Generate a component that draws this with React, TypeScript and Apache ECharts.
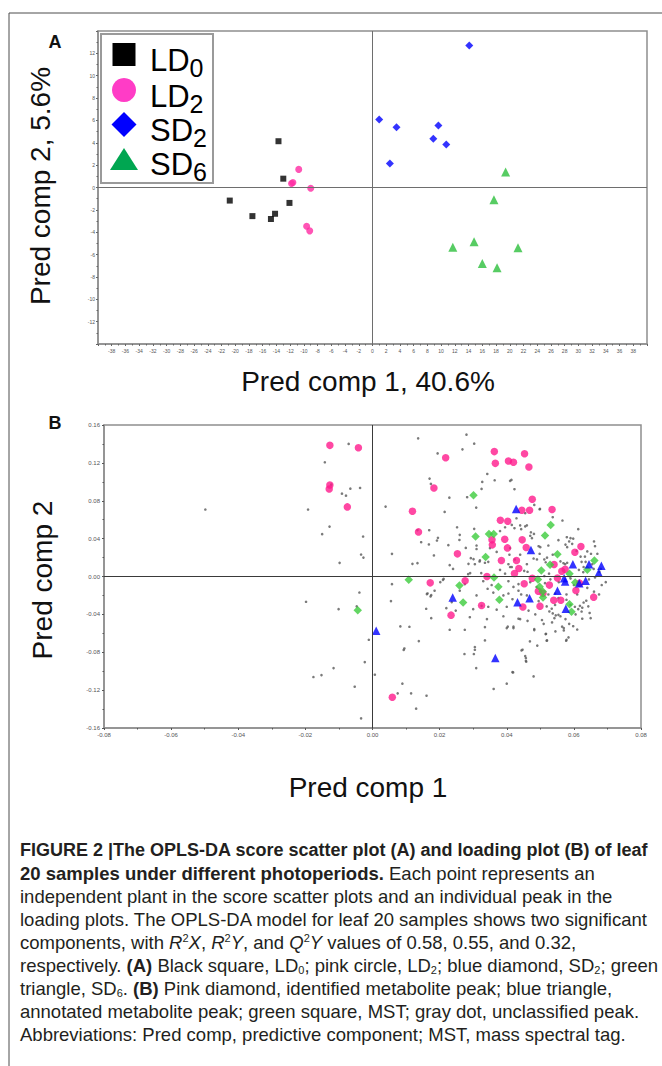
import React, { useEffect, useRef } from 'react';
import * as echarts from 'echarts';

const FONT = "'Liberation Sans', Arial, sans-serif";

// ---------- Panel A: OPLS-DA score scatter ----------
const groupNames = ['LD0', 'LD2', 'SD2', 'SD6'];
const scoreLD0 = [[-13.7, 4.14], [-13.0, 0.79], [-20.8, -1.17], [-12.1, -1.38], [-17.5, -2.56], [-14.2, -2.35], [-14.8, -2.82]];
const scoreLD2 = [[-10.75, 1.62], [-11.8, 0.35], [-11.6, 0.45], [-9.0, -0.06], [-9.6, -3.47], [-9.15, -3.88]];
const scoreSD2 = [[14.1, 12.7], [0.97, 6.08], [3.5, 5.4], [9.6, 5.55], [8.86, 4.35], [10.75, 3.85], [2.53, 2.14]];
const scoreSD6 = [[19.4, 1.38], [17.7, -1.09], [11.7, -5.35], [14.8, -4.85], [21.2, -5.4], [16.0, -6.8], [18.15, -7.17]];
const axisA = { xMin: -40, xMax: 40, xStep: 2, yMin: -14, yMax: 14, yStep: 2 };

// ---------- Panel B: loading plot ----------
const peakNames = ['unclassified peak', 'identified metabolite peak', 'MST', 'annotated metabolite peak'];
const identified = [
  [-0.0127, 0.1385], [-0.0042, 0.136], [-0.0127, 0.0967], [-0.0129, 0.0925], [-0.0075, 0.0735],
  [0.0218, 0.1255], [0.0363, 0.1319], [0.0453, 0.1297], [0.0366, 0.1195], [0.0405, 0.122], [0.042, 0.1206], [0.0466, 0.1157],
  [0.0183, 0.0935], [0.0476, 0.0816], [0.0119, 0.0689], [0.0445, 0.07], [0.0468, 0.07], [0.0535, 0.0707], [0.0381, 0.0594], [0.0403, 0.0584],
  [0.0137, 0.0471], [0.0394, 0.0394], [0.0446, 0.0387], [0.0356, 0.0387], [0.0357, 0.0334], [0.0402, 0.0302], [0.0458, 0.0306], [0.0621, 0.0316], [0.0603, 0.0257],
  [0.0253, 0.0239], [0.0384, 0.0169], [0.0429, 0.0169], [0.0436, 0.0084], [0.0423, 0.0032], [0.0341, 0.0], [0.0541, 0.0127], [0.0564, 0.0056], [0.0574, 0.0077],
  [0.0476, -0.0018], [0.0551, -0.0017], [0.0172, -0.0067], [0.0276, -0.0046], [0.0452, -0.0077], [0.0527, -0.0091], [0.0494, -0.0155], [0.0508, -0.0176], [0.0606, -0.0148], [0.0617, -0.007],
  [0.054, -0.025], [0.0561, -0.025], [0.0659, -0.0218], [0.0325, -0.0306], [0.0448, -0.0323], [0.0499, -0.0313], [0.0234, -0.0408], [0.0059, -0.1276],
];
const mst = [
  [0.0301, 0.0858], [0.0531, 0.0545], [0.0514, 0.0432], [0.0307, 0.0422], [0.0347, 0.045], [0.0361, 0.045], [0.0551, 0.0236], [0.0337, 0.0207],
  [0.0529, 0.0123], [0.0503, 0.0063], [0.0661, 0.0169], [0.064, 0.007], [0.0587, 0.0028], [0.0108, -0.0035], [0.0362, -0.001], [0.0493, -0.0032],
  [0.0259, -0.0095], [0.0375, -0.0109], [0.0498, -0.0109], [0.0507, -0.0158], [0.0508, -0.0222], [0.0604, -0.0063], [0.027, -0.0274], [0.0378, -0.0246],
  [0.0587, -0.0292], [0.0593, -0.0373], [-0.0044, -0.0357],
];
const annotated = [
  [0.0428, 0.0714], [0.0472, 0.0281], [0.0597, 0.013], [0.0645, 0.013], [0.0682, 0.0113], [0.0674, 0.0039], [0.0571, -0.0018], [0.0574, -0.0053],
  [0.0616, -0.007], [0.0635, -0.0046], [0.0551, -0.0151], [0.0468, -0.0229], [0.0432, -0.0271], [0.0239, -0.0222], [0.0366, -0.0861], [0.0011, -0.0573], [0.0576, -0.0341],
];
const unclassified = [
  [-0.0071, 0.14], [-0.0142, 0.1206], [-0.0091, 0.0875], [-0.0079, 0.0854], [-0.0066, 0.0928], [-0.0037, 0.0935], [-0.0123, 0.097], [-0.0498, 0.0707], [-0.0192, 0.0707],
  [-0.0128, 0.0527], [-0.015, 0.0447], [-0.0028, 0.0422], [-0.0034, 0.0232], [-0.0027, 0.02], [-0.0098, 0.0144], [-0.0039, -0.0169], [-0.0198, -0.0267], [-0.0101, -0.0345],
  [-0.0047, -0.0316], [-0.0011, -0.0668], [-0.0023, -0.0904], [-0.0116, -0.0967], [-0.0152, -0.1041], [-0.0176, -0.1062], [-0.0053, -0.1164], [-0.0034, -0.1498], [0.0007, -0.1037],
  [0.0136, 0.1459], [0.028, 0.1498], [0.0303, 0.1403], [0.0268, 0.1343], [0.0194, 0.13], [0.0342, 0.1083], [0.0327, 0.0999], [0.0364, 0.1016], [0.0414, 0.102], [0.017, 0.1034],
  [0.0174, 0.0978], [0.0325, 0.0925], [0.0229, 0.0833], [0.0282, 0.0837], [0.0039, 0.0738], [0.0215, 0.0682], [0.0309, 0.0728], [0.0499, 0.0714], [0.0429, 0.0615], [0.0455, 0.0668],
  [0.0252, 0.052], [0.0134, 0.0489], [0.0169, 0.0489], [0.0195, 0.0408], [0.0145, 0.0362], [0.0168, 0.0338], [0.0192, 0.038], [0.0226, 0.0331], [0.0278, 0.0302], [0.031, 0.0327],
  [0.0058, 0.0239], [0.0183, 0.0222], [0.0119, 0.0134], [0.0134, 0.0141], [0.0286, 0.0134], [0.0301, 0.0183], [0.0319, 0.0158], [0.0058, -0.0081], [0.0164, -0.0179], [0.0175, -0.0197],
  [0.0212, -0.0025], [0.0285, 0.0025], [0.0055, -0.026], [0.016, -0.0341], [0.022, -0.0334], [0.0083, -0.0527], [0.011, -0.0531], [0.0138, -0.0682], [0.0095, -0.076], [0.0093, -0.0775],
  [0.023, -0.0563], [0.0275, -0.0563], [0.0335, -0.0534], [0.0274, -0.0819], [0.0302, -0.0819], [0.0305, -0.0774], [0.0305, -0.0745], [0.0335, -0.0675], [0.0309, -0.0967], [0.0089, -0.1132],
  [0.0115, -0.1234], [0.0161, -0.1259], [0.0075, -0.1234], [0.013, -0.1396], [0.0361, -0.1188], [0.04, -0.1132], [0.0419, -0.1013], [0.0457, -0.089], [0.0457, -0.0861], [0.0444, -0.0781],
  [0.048, -0.1055], [0.04, -0.0545], [0.042, -0.0545], [0.0482, -0.0566], [0.0517, -0.0605], [0.052, -0.0675], [0.057, -0.0545], [0.0584, -0.0643], [0.0577, -0.0679], [0.0527, -0.0369],
  [0.044, -0.045], [0.0462, -0.0468],
  [0.0303, 0.0503], [0.031, 0.029], [0.0293, 0.0194], [0.0305, 0.013], [0.032, 0.017], [0.0335, 0.0145], [0.0345, 0.0155], [0.0291, 0.0036], [0.0324, 0.0036], [0.041, 0.03],
  [0.0408, 0.023], [0.041, 0.01], [0.0395, 0.003], [0.0259, 0.0386],
  [0.0423, 0.0922], [0.041, 0.101], [0.0482, 0.0756], [0.0498, 0.071], [0.0537, 0.0626], [0.0566, 0.0591], [0.044, 0.054], [0.0443, 0.05], [0.0455, 0.053], [0.046, 0.054],
  [0.0415, 0.0545], [0.0423, 0.051], [0.047, 0.043], [0.0475, 0.0405], [0.0481, 0.045], [0.0472, 0.0467], [0.05, 0.031], [0.0495, 0.032], [0.0524, 0.0327], [0.0537, 0.023],
  [0.0554, 0.0384], [0.0579, 0.0415], [0.059, 0.0405], [0.0586, 0.037], [0.0575, 0.0337], [0.0598, 0.04], [0.0595, 0.0345], [0.058, 0.031], [0.0608, 0.027], [0.062, 0.021],
  [0.0633, 0.021], [0.0613, 0.05], [0.066, 0.037], [0.0663, 0.032], [0.064, 0.0265], [0.0651, 0.024], [0.067, 0.024], [0.0498, 0.024], [0.049, 0.018], [0.046, 0.013],
  [0.048, 0.019], [0.044, 0.023], [0.0424, 0.018], [0.0452, 0.006], [0.0462, 0.005], [0.0415, 0.01], [0.0405, 0.013], [0.0512, 0.018], [0.0516, 0.015], [0.052, 0.02],
  [0.056, 0.016], [0.0569, 0.014], [0.0574, 0.013], [0.058, 0.0145], [0.0635, 0.0155], [0.0629, 0.01], [0.0659, 0.008], [0.0655, 0.013], [0.0623, 0.0155], [0.0615, 0.007],
  [0.0628, 0.0045], [0.068, 0.008], [0.0676, 0.005], [0.0526, 0.003], [0.0512, 0.0005],
  [0.0405, -0.005], [0.042, -0.011], [0.0435, -0.008], [0.0405, -0.018], [0.0435, -0.015], [0.0443, -0.019], [0.0417, -0.024], [0.04, -0.032], [0.0435, -0.0446], [0.042, -0.053],
  [0.0403, -0.053], [0.0482, -0.0555], [0.0516, -0.0608], [0.0469, -0.0685], [0.0491, -0.073], [0.0519, -0.0678], [0.0447, -0.0773], [0.0455, -0.084], [0.0458, -0.09], [0.0417, -0.101],
  [0.0578, -0.0668], [0.057, -0.057], [0.0565, -0.053], [0.0598, -0.0525], [0.0586, -0.05], [0.0535, -0.0485], [0.0542, -0.044], [0.0546, -0.041], [0.0554, -0.0405], [0.0537, -0.039],
  [0.056, -0.042], [0.0623, -0.037], [0.0613, -0.0345], [0.0625, -0.033], [0.0618, -0.031], [0.0603, -0.032], [0.0629, -0.0275], [0.0637, -0.0256], [0.0643, -0.0315], [0.0647, -0.0385],
  [0.0625, -0.0446], [0.065, -0.044], [0.0675, -0.019], [0.0683, -0.009], [0.0695, -0.006], [0.0663, -0.001], [0.0489, -0.0112], [0.0514, -0.007], [0.0524, -0.019], [0.0544, -0.018],
  [0.0554, -0.0228], [0.0519, -0.0316], [0.0534, -0.034], [0.0544, -0.03], [0.0578, -0.019], [0.0578, -0.0246], [0.06, -0.009], [0.061, -0.019], [0.064, -0.012], [0.066, -0.016],
  [0.0645, -0.003], [0.059, -0.002], [0.0555, -0.006], [0.053, -0.003], [0.047, -0.006], [0.046, -0.02], [0.0495, -0.026], [0.0465, -0.036], [0.0485, -0.04], [0.0505, -0.046],
  [0.059, -0.03], [0.0605, -0.04], [0.0575, -0.045], [0.051, -0.05], [0.0545, -0.058], [0.061, -0.056],
  [0.0162, -0.0186], [0.0173, -0.021], [0.0185, -0.015], [0.0202, -0.006], [0.021, -0.0035], [0.0175, -0.044], [0.0236, -0.027], [0.0248, -0.036], [0.029, -0.043], [0.03, -0.0345],
  [0.0325, -0.031], [0.0345, -0.032], [0.0341, -0.045], [0.0343, -0.013], [0.024, 0.008], [0.026, -0.015], [0.031, -0.02], [0.033, -0.005], [0.036, -0.017], [0.039, -0.02],
  [0.037, -0.035], [0.039, -0.042], [0.0355, -0.009], [0.038, 0.007], [0.037, 0.026], [0.035, 0.03], [0.038, 0.048], [0.0395, 0.052], [0.026, 0.044], [0.023, 0.012], [0.0275, -0.008],
];
const axisB = { xMin: -0.08, xMax: 0.08, xStep: 0.02, yMin: -0.16, yMax: 0.16, yStep: 0.04 };

// ---------- Texts ----------
const titleA = { y: 'Pred comp 2, 5.6%', x: 'Pred comp 1, 40.6%' };
const titleB = { y: 'Pred comp 2', x: 'Pred comp 1' };
const legendLabels = [['LD', '0'], ['LD', '2'], ['SD', '2'], ['SD', '6']];
const captionLines = [
  '{h|FIGURE 2 |The OPLS-DA score scatter plot (A) and loading plot (B) of leaf}',
  '{b|20 samples under different photoperiods.} Each point represents an',
  'independent plant in the score scatter plots and an individual peak in the',
  'loading plots. The OPLS-DA model for leaf 20 samples shows two significant',
  'components, with {i|R}{sup|2}{i|X}, {i|R}{sup|2}{i|Y}, and {i|Q}{sup|2}{i|Y} values of 0.58, 0.55, and 0.32,',
  'respectively. {b|(A)} Black square, LD{sub|0}; pink circle, LD{sub|2}; blue diamond, SD{sub|2}; green',
  'triangle, SD{sub|6}. {b|(B)} Pink diamond, identified metabolite peak; blue triangle,',
  'annotated metabolite peak; green square, MST; gray dot, unclassified peak.',
  'Abbreviations: Pred comp, predictive component; MST, mass spectral tag.',
];

const CAP_SIZE = 18.5;
const CAP_COLOR = '#231f20';
const capRich = {
  h: { fontFamily: FONT, fontSize: 18, fontWeight: 'bold', fill: CAP_COLOR, lineHeight: 20 },
  b: { fontFamily: FONT, fontSize: CAP_SIZE, fontWeight: 'bold', fill: CAP_COLOR, lineHeight: 20 },
  i: { fontFamily: FONT, fontSize: CAP_SIZE, fontStyle: 'italic', fill: CAP_COLOR, lineHeight: 20 },
  sub: { fontFamily: FONT, fontSize: 11, fill: CAP_COLOR, lineHeight: 8, verticalAlign: 'bottom' },
  sup: { fontFamily: FONT, fontSize: 11, fill: CAP_COLOR, lineHeight: 10, verticalAlign: 'top' },
};

// legend styling (panel A)
const legendColors = ['#000000', '#ff3cc6', '#0000ff', '#00a651'];

function buildOption(): any {
  const tickLabel = (size: number, extra: any = {}) => ({
    fontSize: size, color: '#555', fontFamily: FONT, ...extra,
  });
  const zeroLines = (color: string) => ({
    silent: true, symbol: 'none', label: { show: false },
    lineStyle: { color, width: 1, type: 'solid' },
    data: [{ xAxis: 0 }, { yAxis: 0 }],
  });
  const fmt2 = (v: number) => (Math.abs(v) < 1e-9 ? 0 : v).toFixed(2);
  const titleStyle = (text: string) => ({ text, fontFamily: FONT, fontSize: 28, fill: '#111', align: 'center', verticalAlign: 'middle' });

  const graphic: any[] = [
    { type: 'line', shape: { x1: 9, y1: 13, x2: 662, y2: 13 }, style: { stroke: '#4d4d4d', lineWidth: 1 } },
    { type: 'line', shape: { x1: 9, y1: 13, x2: 9, y2: 1066 }, style: { stroke: '#4d4d4d', lineWidth: 1 } },
    { type: 'text', x: 55, y: 42, style: { text: 'A', fontFamily: FONT, fontWeight: 'bold', fontSize: 18, fill: '#111', align: 'center', verticalAlign: 'middle' } },
    { type: 'text', x: 55, y: 423, style: { text: 'B', fontFamily: FONT, fontWeight: 'bold', fontSize: 18, fill: '#111', align: 'center', verticalAlign: 'middle' } },
    { type: 'text', x: 40, y: 186, rotation: Math.PI / 2, style: titleStyle(titleA.y) },
    { type: 'text', x: 368, y: 381, style: titleStyle(titleA.x) },
    { type: 'text', x: 42, y: 580, rotation: Math.PI / 2, style: titleStyle(titleB.y) },
    { type: 'text', x: 368, y: 787, style: titleStyle(titleB.x) },
  ];

  // legend box of panel A
  const legX = 124;
  const legY = [54.5, 90, 124.5, 158.5];
  const legend: any[] = [
    { type: 'rect', shape: { x: 101, y: 34, width: 112, height: 149 }, style: { fill: '#ffffff', stroke: '#9a9a9a', lineWidth: 2 }, z: 10 },
    { type: 'rect', shape: { x: legX - 11.5, y: legY[0] - 11.5, width: 23, height: 23 }, style: { fill: legendColors[0] }, z: 11 },
    { type: 'circle', shape: { cx: legX, cy: legY[1], r: 12 }, style: { fill: legendColors[1] }, z: 11 },
    { type: 'polygon', shape: { points: [[legX, legY[2] - 12.5], [legX + 12.5, legY[2]], [legX, legY[2] + 12.5], [legX - 12.5, legY[2]]] }, style: { fill: legendColors[2] }, z: 11 },
    { type: 'polygon', shape: { points: [[legX, legY[3] - 10.5], [legX + 14, legY[3] + 11.5], [legX - 14, legY[3] + 11.5]] }, style: { fill: legendColors[3] }, z: 11 },
  ];
  legendLabels.forEach(([main, sub], i) => {
    const subX = main === 'LD' ? 189.5 : 193;
    legend.push({ type: 'text', x: 150, y: legY[i] + 6, z: 11, style: { text: main, fontFamily: FONT, fontSize: 31, fill: '#000', align: 'left', verticalAlign: 'middle' } });
    legend.push({ type: 'text', x: subX, y: legY[i] + 13.5, z: 11, style: { text: sub, fontFamily: FONT, fontSize: 25, fill: '#000', align: 'left', verticalAlign: 'middle' } });
  });
  graphic.push(...legend);

  captionLines.forEach((line, i) => {
    graphic.push({
      type: 'text', x: 20, y: 850 + i * 23,
      style: {
        text: line, fontFamily: FONT, fontSize: CAP_SIZE, fill: CAP_COLOR, lineHeight: 20,
        align: 'left', verticalAlign: 'middle', rich: capRich,
      },
    });
  });

  const axisCommon = (min: number, max: number, step: number, labelSize: number, labelExtra: any, tickColor: string) => ({
    type: 'value', min, max, interval: step,
    axisLine: { onZero: false, lineStyle: { color: '#8e8e8e', width: 1.5 } },
    axisTick: { show: true, length: 2, lineStyle: { color: tickColor } },
    minorTick: { show: true, splitNumber: 2, length: 1.5, lineStyle: { color: tickColor } },
    splitLine: { show: false },
    axisLabel: tickLabel(labelSize, labelExtra),
  });

  return {
    animation: false,
    backgroundColor: '#ffffff',
    textStyle: { fontFamily: FONT },
    grid: [
      { left: 98, top: 31, width: 549, height: 313, show: true, borderColor: '#8e8e8e', borderWidth: 1.5, backgroundColor: 'transparent' },
      { left: 104, top: 425, width: 537, height: 303, show: true, borderColor: '#8e8e8e', borderWidth: 1.5, backgroundColor: 'transparent' },
    ],
    xAxis: [
      { gridIndex: 0, ...axisCommon(axisA.xMin, axisA.xMax, axisA.xStep, 5, { margin: 4, showMinLabel: false, showMaxLabel: false }, '#666') },
      { gridIndex: 1, ...axisCommon(axisB.xMin, axisB.xMax, axisB.xStep, 6, { margin: 4, formatter: fmt2 }, '#555') },
    ],
    yAxis: [
      { gridIndex: 0, ...axisCommon(axisA.yMin, axisA.yMax, axisA.yStep, 5, { margin: 3, showMinLabel: false, showMaxLabel: false }, '#666') },
      { gridIndex: 1, ...axisCommon(axisB.yMin, axisB.yMax, axisB.yStep, 6, { margin: 4, formatter: fmt2 }, '#555') },
    ],
    graphic,
    series: [
      { name: groupNames[0], type: 'scatter', xAxisIndex: 0, yAxisIndex: 0, symbol: 'rect', symbolSize: 6, itemStyle: { color: '#000000' }, data: scoreLD0, markLine: zeroLines('#6e6e6e') },
      { name: groupNames[1], type: 'scatter', xAxisIndex: 0, yAxisIndex: 0, symbol: 'circle', symbolSize: 7, itemStyle: { color: '#ff2aa3' }, data: scoreLD2 },
      { name: groupNames[2], type: 'scatter', xAxisIndex: 0, yAxisIndex: 0, symbol: 'diamond', symbolSize: 8, itemStyle: { color: '#0000ff' }, data: scoreSD2 },
      { name: groupNames[3], type: 'scatter', xAxisIndex: 0, yAxisIndex: 0, symbol: 'triangle', symbolSize: 9, itemStyle: { color: '#2dbf3c' }, data: scoreSD6 },
      { name: peakNames[0], type: 'scatter', xAxisIndex: 1, yAxisIndex: 1, symbol: 'circle', symbolSize: 2.6, itemStyle: { color: '#595959' }, data: unclassified, markLine: zeroLines('#3a3a3a') },
      { name: peakNames[1], type: 'scatter', xAxisIndex: 1, yAxisIndex: 1, symbol: 'circle', symbolSize: 7.5, itemStyle: { color: '#ff1a8c' }, data: identified },
      { name: peakNames[2], type: 'scatter', xAxisIndex: 1, yAxisIndex: 1, symbol: 'diamond', symbolSize: 8.5, itemStyle: { color: '#3ccc3c' }, data: mst },
      { name: peakNames[3], type: 'scatter', xAxisIndex: 1, yAxisIndex: 1, symbol: 'triangle', symbolSize: 8.5, itemStyle: { color: '#0000ff' }, data: annotated },
    ],
  };
}

export default function App() {
  const ref = useRef<HTMLDivElement>(null);
  useEffect(() => {
    if (!ref.current) return;
    const chart = echarts.init(ref.current, undefined, { renderer: 'svg' });
    chart.setOption(buildOption());
    return () => chart.dispose();
  }, []);
  return (
    <div
      ref={ref}
      style={{ position: 'absolute', left: 0, top: 0, width: 662, height: 1066, background: '#fff' }}
    />
  );
}
